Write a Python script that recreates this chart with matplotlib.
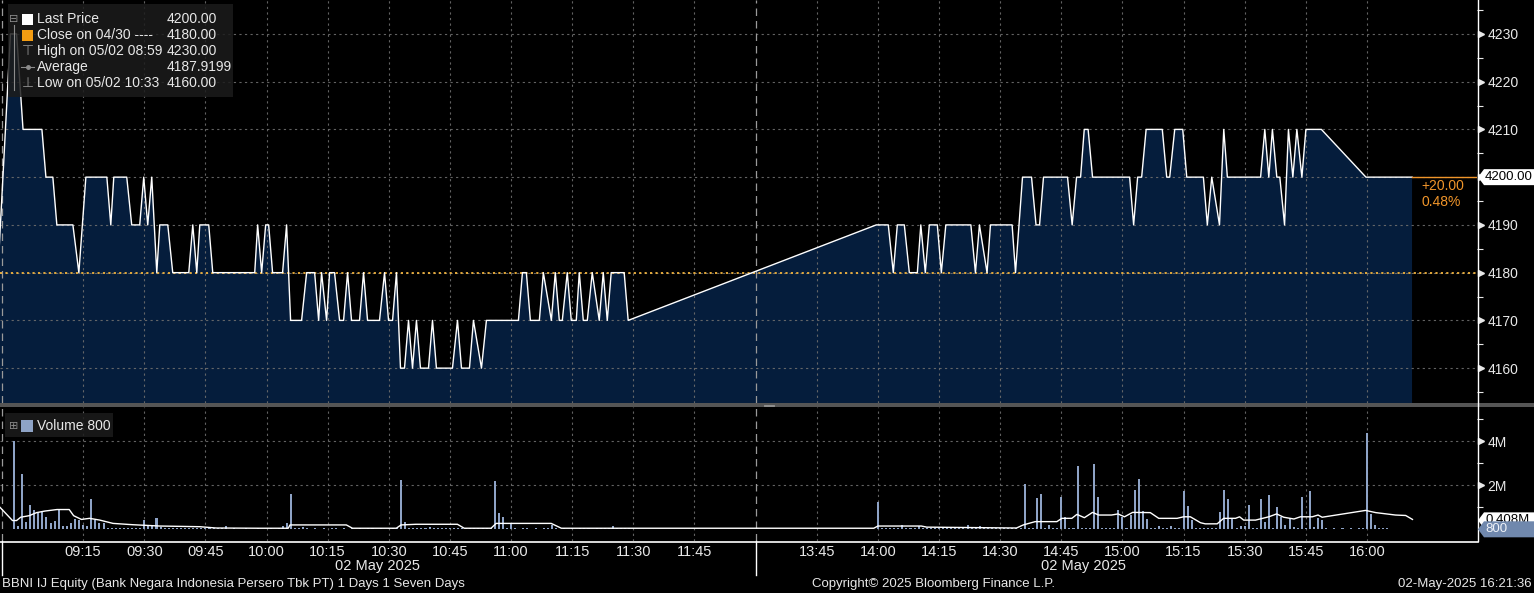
import matplotlib
matplotlib.use('Agg')
import matplotlib.pyplot as plt
from matplotlib.patches import Rectangle, Polygon
from matplotlib.lines import Line2D

plt.rcParams['font.family'] = ['Liberation Sans', 'DejaVu Sans']

W, H = 1534, 593

# ---------------- data ----------------
# intraday trades (time, price)
price_ticks = [
    ("08:54:05", 4180), ("08:57:10", 4230), ("08:58:40", 4230), ("09:00:15", 4210),
    ("09:04:53", 4210), ("09:05:52", 4200), ("09:07:34", 4200), ("09:08:33", 4190),
    ("09:12:29", 4190), ("09:13:57", 4180), ("09:15:40", 4200), ("09:20:49", 4200),
    ("09:21:47", 4190), ("09:22:31", 4200), ("09:25:42", 4200), ("09:26:55", 4190),
    ("09:28:53", 4190), ("09:29:52", 4200), ("09:30:51", 4190), ("09:31:50", 4200),
    ("09:33:04", 4180), ("09:33:48", 4190), ("09:35:46", 4190), ("09:36:59", 4180),
    ("09:40:55", 4180), ("09:41:54", 4190), ("09:42:53", 4180), ("09:43:37", 4190),
    ("09:45:49", 4190), ("09:46:48", 4180), ("09:57:06", 4180), ("09:57:49", 4190),
    ("09:58:48", 4180), ("09:59:47", 4190), ("10:00:31", 4190), ("10:01:29", 4180),
    ("10:03:56", 4180), ("10:04:55", 4190), ("10:05:54", 4170), ("10:08:36", 4170),
    ("10:09:50", 4180), ("10:11:48", 4180), ("10:12:47", 4170), ("10:13:30", 4180),
    ("10:14:44", 4170), ("10:15:28", 4180), ("10:16:41", 4180), ("10:17:55", 4170),
    ("10:18:54", 4170), ("10:19:53", 4180), ("10:20:51", 4170), ("10:22:49", 4170),
    ("10:23:48", 4180), ("10:24:47", 4170), ("10:27:43", 4170), ("10:28:57", 4180),
    ("10:29:56", 4170), ("10:30:55", 4170), ("10:31:53", 4180), ("10:32:52", 4160),
    ("10:33:51", 4160), ("10:34:50", 4170), ("10:35:49", 4160), ("10:36:47", 4170),
    ("10:37:46", 4160), ("10:39:44", 4160), ("10:40:43", 4170), ("10:41:41", 4160),
    ("10:45:37", 4160), ("10:46:51", 4170), ("10:47:50", 4160), ("10:49:47", 4160),
    ("10:50:46", 4170), ("10:52:44", 4160), ("10:53:57", 4170), ("11:01:48", 4170),
    ("11:02:47", 4180), ("11:03:45", 4180), ("11:04:44", 4170), ("11:06:56", 4170),
    ("11:07:55", 4180), ("11:09:53", 4170), ("11:10:51", 4180), ("11:11:50", 4170),
    ("11:12:34", 4170), ("11:13:47", 4180), ("11:14:46", 4170), ("11:16:00", 4170),
    ("11:16:44", 4180), ("11:17:43", 4170), ("11:18:42", 4170), ("11:19:55", 4180),
    ("11:21:38", 4170), ("11:22:37", 4180), ("11:23:36", 4170), ("11:24:34", 4180),
    ("11:27:45", 4180), ("11:28:44", 4170),
    ("13:59:36", 4190), ("14:02:33", 4190), ("14:03:47", 4180), ("14:04:46", 4190),
    ("14:06:29", 4190), ("14:07:43", 4180), ("14:09:41", 4180), ("14:10:32", 4190),
    ("14:11:38", 4180), ("14:12:37", 4190), ("14:14:35", 4190), ("14:15:34", 4180),
    ("14:16:40", 4190), ("14:22:49", 4190), ("14:23:56", 4180), ("14:24:55", 4190),
    ("14:26:47", 4180), ("14:27:37", 4190), ("14:32:56", 4190), ("14:33:46", 4180),
    ("14:35:29", 4200), ("14:37:42", 4200), ("14:38:48", 4190), ("14:39:40", 4190),
    ("14:40:38", 4200), ("14:46:32", 4200), ("14:47:40", 4190), ("14:48:45", 4200),
    ("14:49:44", 4200), ("14:50:38", 4210), ("14:51:35", 4210), ("14:52:40", 4200),
    ("15:01:46", 4200), ("15:02:45", 4190), ("15:03:44", 4200), ("15:04:43", 4200),
    ("15:05:49", 4210), ("15:09:47", 4210), ("15:10:52", 4200), ("15:11:36", 4200),
    ("15:12:50", 4210), ("15:14:48", 4210), ("15:15:47", 4200), ("15:19:52", 4200),
    ("15:20:50", 4190), ("15:21:55", 4200), ("15:23:49", 4190), ("15:24:52", 4210),
    ("15:25:45", 4200), ("15:33:54", 4200), ("15:34:56", 4210), ("15:35:55", 4200),
    ("15:36:48", 4210), ("15:37:53", 4200), ("15:38:37", 4200), ("15:39:47", 4190),
    ("15:40:44", 4210), ("15:41:49", 4200), ("15:42:48", 4210), ("15:44:02", 4200),
    ("15:45:01", 4210), ("15:48:49", 4210), ("15:59:45", 4200), ("16:11:04", 4200),
]
prev_close = 4180
last_price = 4200

legend_rows = [
    ("Last Price", "4200.00"),
    ("Close on 04/30 ----", "4180.00"),
    ("High on 05/02 08:59", "4230.00"),
    ("Average", "4187.9199"),
    ("Low on 05/02 10:33", "4160.00"),
]

# volume per minute, in millions of shares
vol_am_start = "08:58"
vol_am = [
    4.0, 0.15, 2.5, 0.35, 1.1, 0.88, 0.73, 0.85, 0.57, 0.3, 0.4, 0.9, 0.15, 0.15, 0.27,
    0.45, 0.42, 0.2, 0.15, 1.38, 0.42, 0.27, 0.27,
    0.06, 0.05, 0.08, 0.05, 0.06, 0.07, 0.05, 0.06, 0.08,
    0.42, 0.2, 0.15, 0.5, 0.1,
    0.05, 0.04, 0.06, 0.05, 0.07, 0.05, 0.04, 0.06, 0.05, 0.04, 0.05, 0.06, 0.04, 0.05, 0.04,
    0.15,
    0.03, 0.04, 0.03, 0.03, 0.04, 0.03, 0.03, 0.04, 0.03, 0.03, 0.04, 0.03, 0.05,
    0.15, 0.3, 1.6,
    0.04, 0.05, 0.10, 0.04, 0.03, 0.04, 0.03, 0.04, 0.03, 0.04, 0.05, 0.03, 0.04,
    0.03, 0.04, 0.03, 0.04, 0.03, 0.04, 0.05, 0.03, 0.04, 0.03, 0.04, 0.05, 0.06,
    2.24, 0.35,
    0.06, 0.08, 0.05, 0.07, 0.06, 0.09, 0.06, 0.05, 0.07, 0.06, 0.08, 0.05, 0.06, 0.07,
    0.05, 0.06, 0.05, 0.06, 0.07, 0.05, 0.06,
    2.2, 0.73, 0.57, 0.06, 0.27,
    0.04, 0.03, 0.04, 0.05, 0.03, 0.04, 0.03, 0.04, 0.05, 0.2, 0.04, 0.03, 0.04, 0.03,
    0.04, 0.03, 0.04, 0.05, 0.04, 0.03, 0.04, 0.05, 0.04, 0.06, 0.15, 0.05, 0.06, 0.05, 0.04,
]
vol_pm_start = "14:00"
vol_pm = [
    1.25, 0.04, 0.05, 0.04, 0.06, 0.05, 0.2, 0.05, 0.04, 0.06, 0.15,
    0.05, 0.04, 0.06, 0.05, 0.04, 0.05, 0.06, 0.04, 0.05, 0.05, 0.04,
    0.2, 0.06, 0.05, 0.15,
    0.05, 0.06, 0.05, 0.06, 0.05, 0.06, 0.05, 0.06, 0.05, 0.06,
    2.05, 0.06, 0.06, 1.41, 1.6, 0.06, 0.2, 0.05, 0.06, 1.48, 0.57, 0.06, 0.05, 2.88,
    0.06, 0.05, 0.06, 2.97, 1.45,
    0.05, 0.06, 0.05, 0.06,
    0.9, 0.54, 0.06, 0.65, 1.78, 2.27, 0.85, 0.47, 0.06, 0.05, 0.15, 0.05, 0.06, 0.15,
    0.05, 0.06, 1.73, 1.08, 0.42,
    0.05, 0.06, 0.05, 0.06, 0.05, 0.06,
    0.8, 1.78, 1.38, 0.5, 0.06, 0.15, 0.15, 1.1, 0.06, 0.05, 1.38, 0.35, 1.56, 0.06,
    1.0, 0.57, 0.2, 0.5, 0.1, 0.06, 1.48, 0.06, 1.75, 0.1, 0.5, 0.42,
    0.04, 0.03, 0.04, 0.03, 0.04, 0.03, 0.04, 0.03, 0.04, 0.05,
    4.4, 0.7, 0.2,
    0.05, 0.04, 0.04, 0.03, 0.03, 0.03, 0.02, 0.02,
]
# volume moving average (white line), millions
vol_avg = [
    ("08:54:36", 1.00), ("08:57:40", 0.40), ("08:58:40", 0.40), ("08:59:40", 0.55),
    ("09:01:45", 0.62), ("09:03:35", 0.76), ("09:05:35", 0.83), ("09:08:35", 0.90),
    ("09:11:35", 0.90), ("09:12:40", 0.62), ("09:14:35", 0.45), ("09:16:35", 0.50),
    ("09:19:05", 0.42), ("09:22:20", 0.27), ("09:27:10", 0.21), ("09:33:50", 0.15),
    ("09:43:35", 0.12), ("09:47:40", 0.06), ("09:58:20", 0.05), ("10:05:20", 0.05),
    ("10:05:45", 0.20), ("10:19:35", 0.20), ("10:21:05", 0.05), ("10:31:50", 0.05),
    ("10:33:00", 0.20), ("10:36:40", 0.23), ("10:46:50", 0.23), ("10:48:30", 0.05),
    ("10:55:05", 0.05), ("10:56:20", 0.27), ("11:09:50", 0.27), ("11:12:20", 0.05),
    ("13:59:00", 0.05), ("14:00:00", 0.15), ("14:10:40", 0.15), ("14:12:00", 0.10),
    ("14:34:00", 0.06), ("14:35:40", 0.20), ("14:38:35", 0.35), ("14:43:55", 0.35),
    ("14:45:08", 0.50), ("14:47:35", 0.50), ("14:48:50", 0.68), ("14:50:40", 0.53),
    ("14:52:40", 0.77), ("14:54:10", 0.65), ("14:57:20", 0.65), ("14:58:55", 0.70),
    ("15:00:30", 0.57), ("15:02:30", 0.77), ("15:06:50", 0.76), ("15:08:55", 0.50),
    ("15:13:25", 0.50), ("15:15:00", 0.57), ("15:16:40", 0.57), ("15:19:10", 0.30),
    ("15:20:20", 0.25), ("15:23:15", 0.25), ("15:24:50", 0.50), ("15:27:45", 0.50),
    ("15:28:45", 0.57), ("15:29:45", 0.42), ("15:32:40", 0.42), ("15:35:55", 0.57),
    ("15:37:50", 0.70), ("15:39:35", 0.55), ("15:42:05", 0.47), ("15:43:40", 0.57),
    ("15:46:35", 0.57), ("15:48:00", 0.65), ("15:49:00", 0.55), ("15:59:40", 0.86),
    ("16:02:10", 0.76), ("16:07:00", 0.65), ("16:09:30", 0.63), ("16:11:10", 0.45),
]
vol_avg_label = 0.408   # millions
vol_last = 800          # shares

time_ticks = ["09:15", "09:30", "09:45", "10:00", "10:15", "10:30", "10:45", "11:00",
              "11:15", "11:30", "11:45", "13:45", "14:00", "14:15", "14:30", "14:45",
              "15:00", "15:15", "15:30", "15:45", "16:00"]
price_ticks_axis = [4160, 4170, 4180, 4190, 4200, 4210, 4220, 4230]
vol_ticks_axis = [2, 4]


def to_x(t):
    # minutes after 09:00 with the 12:00-13:30 lunch break squeezed out
    p = [int(v) for v in t.split(':')]
    m = p[0] * 60 + p[1] + (p[2] / 60.0 if len(p) > 2 else 0.0) - 540
    if m > 180:
        m -= 90
    return m


def fxy(x, y):  # image pixel (top-left origin) -> figure fraction
    return x / W, 1 - y / H


BG = 'black'
FG = '#e8e8e8'
GRID = '#6e6e6e'
ORANGE = '#f0952a'
VOLC = '#8ea3c6'

fig = plt.figure(figsize=(W / 100, H / 100), dpi=100, facecolor=BG)
ax_p = fig.add_axes([0, 1 - 403 / H, 1477 / W, 403 / H], facecolor=BG)
ax_v = fig.add_axes([0, 1 - 541 / H, 1477 / W, (541 - 407) / H], facecolor=BG)

xmin, xmax = to_x("08:54:36"), to_x("16:27:00")
session_lines = [to_x("08:55"), to_x("12:00")]

# ---- price panel ----
px = [to_x(t) for t, _ in price_ticks]
py = [v for _, v in price_ticks]
ax_p.fill_between(px, py, 4000, color='#051d3c', lw=0, zorder=1)
ax_p.plot(px, py, color='white', lw=1.0, zorder=3)
ax_p.axhline(prev_close, color='#f2b33d', lw=1.3, ls=(0, (1.2, 1.8)), zorder=2.8)
ax_p.plot([px[-1], xmax], [last_price, last_price], color=ORANGE, lw=1.0, zorder=3)
ax_p.set_xlim(xmin, xmax)
ax_p.set_ylim(4152.7, 4237.1)

# ---- volume panel ----
am_x = [to_x(vol_am_start) + i for i in range(len(vol_am))]
pm_x = [to_x(vol_pm_start) + i for i in range(len(vol_pm))]
ax_v.bar(am_x + pm_x, vol_am + vol_pm, width=0.5, color=VOLC, lw=0, zorder=2)
ax_v.plot([to_x(t) for t, _ in vol_avg], [v for _, v in vol_avg], color='white', lw=1.0, zorder=3)
ax_v.set_xlim(xmin, xmax)
ax_v.set_ylim(-0.53, 5.56)

for ax in (ax_p, ax_v):
    for s in ax.spines.values():
        s.set_visible(False)
    ax.set_xticks([to_x(t) for t in time_ticks])
    ax.grid(True, color=GRID, ls=(0, (2, 3)), lw=0.8, alpha=0.9)
    ax.set_axisbelow('line')
    for sx in session_lines:
        ax.axvline(sx, color='#9a9a9a', lw=0.9, ls=(0, (6, 4)), zorder=1.6)
    ax.yaxis.tick_right()
    ax.tick_params(axis='y', which='major', colors=FG, labelsize=10, length=0, pad=7.5)
    ax.tick_params(axis='y', which='minor', colors=FG, length=4, width=0.8)

ax_p.tick_params(axis='x', length=0, labelbottom=False)
ax_p.set_yticks(price_ticks_axis)
# the last-price box sits over its own level, so that tick keeps no label
ax_p.set_yticklabels(["" if v == last_price else str(v) for v in price_ticks_axis])
ax_p.set_yticks([v + 5 for v in price_ticks_axis] + [price_ticks_axis[0] - 5], minor=True)

ax_v.set_xticklabels(time_ticks)
ax_v.tick_params(axis='x', length=0, colors=FG, labelsize=10.5, pad=3)
ax_v.set_yticks(vol_ticks_axis)
ax_v.set_yticklabels([f"{v}M" for v in vol_ticks_axis])
ax_v.set_yticks([1, 3, 5], minor=True)

# little pointers on the major ticks
ax_p.plot([1.0025] * len(price_ticks_axis), price_ticks_axis, marker='>', ms=4, ls='none',
          color=FG, transform=ax_p.get_yaxis_transform(), clip_on=False)
ax_v.plot([1.0025] * len(vol_ticks_axis), vol_ticks_axis, marker='>', ms=4, ls='none',
          color=FG, transform=ax_v.get_yaxis_transform(), clip_on=False)

# session separators under the time axis
for sx in session_lines:
    ax_v.axvline(sx, ymin=-0.25, ymax=0, color='white', lw=1.0, clip_on=False)

# axis lines, band between panels
fig.add_artist(Rectangle(fxy(0, 407), 1, 4 / H, transform=fig.transFigure,
                         facecolor='#555555', lw=0))
for yy in (404.5, 406):
    fig.add_artist(Line2D([fxy(764, 0)[0], fxy(774, 0)[0]], [fxy(0, yy)[1]] * 2,
                          transform=fig.transFigure, color='#9a9a9a', lw=0.6))
fig.add_artist(Line2D([fxy(1477.5, 0)[0]] * 2, [1, fxy(0, 541)[1]],
                      transform=fig.transFigure, color='white', lw=1.0))
fig.add_artist(Line2D([0, fxy(1477.5, 0)[0]], [fxy(0, 541.5)[1]] * 2,
                      transform=fig.transFigure, color='white', lw=1.2))


def value_box(ax, val, text, face, tcolor, z):
    y = H - ax.transData.transform((0, val))[1]
    pts = [(1478, y), (1484, y - 8), (1534, y - 8), (1534, y + 8), (1484, y + 8)]
    fig.add_artist(Polygon([fxy(*p) for p in pts], closed=True, transform=fig.transFigure,
                           facecolor=face, lw=0, zorder=z))
    fig.text(*fxy(1485, y), text, color=tcolor, fontsize=9.5, ha='left', va='center',
             zorder=z + 0.5)
    return y


y_last = value_box(ax_p, last_price, f"{last_price:.2f}", 'white', 'black', 10)
chg = last_price - prev_close
fig.text(*fxy(1421, y_last + 9), f"{chg:+.2f}", color=ORANGE, fontsize=10, ha='left', va='center')
fig.text(*fxy(1421, y_last + 25), f"{chg / prev_close * 100:.2f}%", color=ORANGE, fontsize=10,
         ha='left', va='center')
value_box(ax_v, vol_avg_label, f"{vol_avg_label:.3f}M", 'white', 'black', 10)
value_box(ax_v, vol_last / 1e6, f"{vol_last}", '#7088ad', '#eef2f8', 12)

# ---- legends ----
fig.add_artist(Rectangle(fxy(8, 97), 225 / W, 93 / H, transform=fig.transFigure,
                         facecolor='#1c1c1c', alpha=0.85, lw=0))
LG = '#8c8c8c'
fig.text(*fxy(14, 19), '⊟', color=LG, fontsize=8, ha='center', va='center', family='DejaVu Sans')
fig.add_artist(Line2D([fxy(14, 0)[0]] * 2, [fxy(0, 25)[1], fxy(0, 90)[1]],
                      transform=fig.transFigure, color=LG, lw=0.8))
row_y = [19, 35, 51, 67, 83]
for (lab, val), y in zip(legend_rows, row_y):
    fig.text(*fxy(37, y), lab, color=FG, fontsize=10, ha='left', va='center')
    fig.text(*fxy(167, y), val, color=FG, fontsize=10, ha='left', va='center')
fig.add_artist(Rectangle(fxy(22, 25), 11 / W, 11 / H, transform=fig.transFigure,
                         facecolor='white', lw=0))
fig.add_artist(Rectangle(fxy(22, 41), 11 / W, 11 / H, transform=fig.transFigure,
                         facecolor='#f39c12', lw=0))
fig.text(*fxy(27.5, 51), '⊤', color=LG, fontsize=10, ha='center', va='center', family='DejaVu Sans')
fig.add_artist(Line2D([fxy(21, 0)[0], fxy(34, 0)[0]], [fxy(0, 67)[1]] * 2,
                      transform=fig.transFigure, color=LG, lw=0.8))
fig.add_artist(Line2D([fxy(27.5, 0)[0]], [fxy(0, 67)[1]], marker='o', ms=2.5,
                      transform=fig.transFigure, color=LG))
fig.text(*fxy(27.5, 83), '⊥', color=LG, fontsize=10, ha='center', va='center', family='DejaVu Sans')

fig.add_artist(Rectangle(fxy(5, 437), 108 / W, 24 / H, transform=fig.transFigure,
                         facecolor='#1c1c1c', alpha=0.85, lw=0))
fig.text(*fxy(14, 426), '⊞', color=LG, fontsize=8, ha='center', va='center', family='DejaVu Sans')
fig.add_artist(Rectangle(fxy(21, 432), 12 / W, 12 / H, transform=fig.transFigure,
                         facecolor=VOLC, lw=0))
fig.text(*fxy(37, 426), f"Volume {vol_last}", color=FG, fontsize=10, ha='left', va='center')

# ---- date labels and footer ----
date_am = (xmin + to_x("12:00")) / 2
date_pm = (to_x("13:30") + px[-1]) / 2
for dx in (date_am, date_pm):
    xf = ax_v.transData.transform((dx, 0))[0]
    fig.text(*fxy(xf, 566), "02 May 2025", color=FG, fontsize=10.5, ha='center', va='center')

fig.text(*fxy(2, 584), "BBNI IJ Equity (Bank Negara Indonesia Persero Tbk PT) 1 Days 1 Seven Days",
         color=FG, fontsize=9.5, ha='left', va='center')
fig.text(*fxy(812, 584), "Copyright\u00a9 2025 Bloomberg Finance L.P.", color=FG, fontsize=9.5,
         ha='left', va='center')
fig.text(*fxy(1532, 584), "02-May-2025 16:21:36", color=FG, fontsize=9.5, ha='right', va='center')

fig.savefig("out.png", dpi=100, facecolor=BG)
plt.close(fig)
